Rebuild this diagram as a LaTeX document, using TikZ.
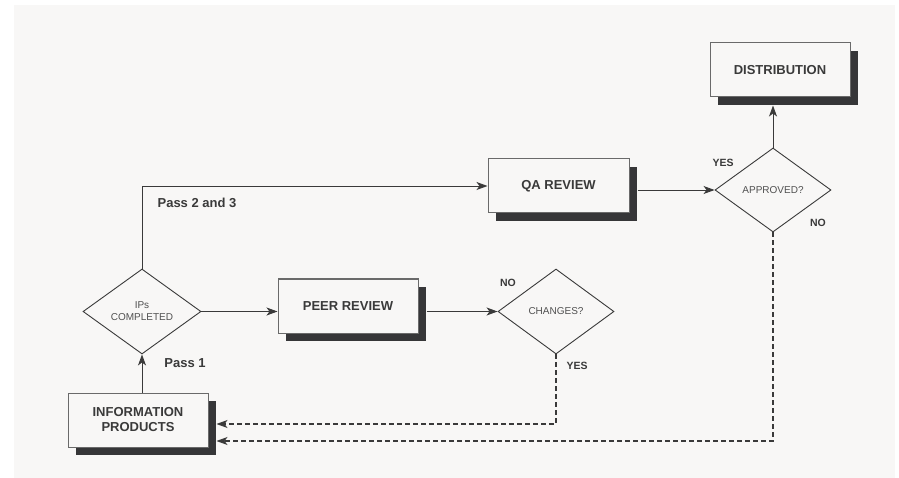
\documentclass[tikz,border=0pt]{standalone}
\usepackage{fontspec}
\setmainfont{Liberation Sans}
\usetikzlibrary{shapes.geometric,arrows.meta,calc,shadows}

\definecolor{paper}{HTML}{F8F7F6}
\definecolor{edgegray}{HTML}{6A6A6A}
\definecolor{shade}{HTML}{363638}
\definecolor{ink}{HTML}{3A3A3A}
\definecolor{softink}{HTML}{505050}

\tikzset{
  stagebox/.style={rectangle, draw=edgegray, line width=1pt, fill=paper,
    minimum width=140pt, minimum height=54pt, inner sep=0pt, align=center,
    text=ink, font=\bfseries\fontsize{13}{15}\selectfont,
    drop shadow={shadow xshift=8pt, shadow yshift=-8pt, fill=shade, opacity=1}},
  decision/.style={diamond, draw=ink, line width=0.9pt, fill=paper,
    minimum width=116pt, minimum height=85pt, inner sep=0pt, align=center,
    text=softink, font=\fontsize{10}{12}\selectfont},
  flow/.style={draw=ink, line width=0.9pt,
    -{Stealth[length=11pt,width=8pt,inset=3pt]}},
  backflow/.style={flow, line width=1.4pt, dash pattern=on 5pt off 3pt,
    -{Stealth[length=11pt,width=8pt,inset=3pt,line width=0.9pt]}},
  tag/.style={text=ink, font=\bfseries\fontsize{10.5}{12}\selectfont},
  passtag/.style={text=ink, font=\bfseries\fontsize{13}{15}\selectfont}
}

\begin{document}
\begin{tikzpicture}[x=1pt,y=-1pt]
  % page and panel
  \fill[white] (0,0) rectangle (899,478);
  \useasboundingbox (0,0) rectangle (899,478);
  \fill[paper] (14,5) rectangle (895,478);

  % stages
  \node[stagebox] (info) at (138,420) {INFORMATION\\PRODUCTS};
  \node[stagebox] (peer) at (348,306) {PEER REVIEW};
  \node[stagebox, minimum width=141pt] (qa) at (558.5,186) {QA REVIEW};
  \node[stagebox] (dist) at (780,70) {DISTRIBUTION};

  % decisions
  \node[decision, minimum width=118pt] (ipc) at (142,311.5) {IPs\\COMPLETED};
  \node[decision] (chg) at (556,311.5) {CHANGES?};
  \node[decision, minimum height=84pt] (apr) at (773,190) {APPROVED?};

  % forward flow
  \draw[flow] (info.north -| ipc.south) -- (ipc.south);
  \draw[flow] (ipc.east) -- (ipc.east -| peer.west);
  \draw[flow] ($(ipc.east -| peer.east)+(8,0)$) -- (chg.west);
  \draw[flow] (ipc.north) |- (qa.west);
  \draw[flow] ($(apr.west -| qa.east)+(8,0)$) -- (apr.west);
  \draw[flow] (apr.north) -- ($(apr.north |- dist.south)+(0,8)$);

  % rework loops back to the start
  \draw[backflow] (chg.south) |- ($(info.east)+(8,4)$);
  \draw[backflow] (apr.south) |- ($(info.east)+(8,21)$);

  % labels
  \node[passtag] (p1) at (185,363) {Pass 1};
  \node[passtag] (p23) at (197,203) {Pass 2 and 3};
  \node[tag] (chgno) at (508,283) {NO};
  \node[tag] (chgyes) at (577,366) {YES};
  \node[tag] (apryes) at (723,163) {YES};
  \node[tag] (aprno) at (818,223) {NO};
\end{tikzpicture}
\end{document}
